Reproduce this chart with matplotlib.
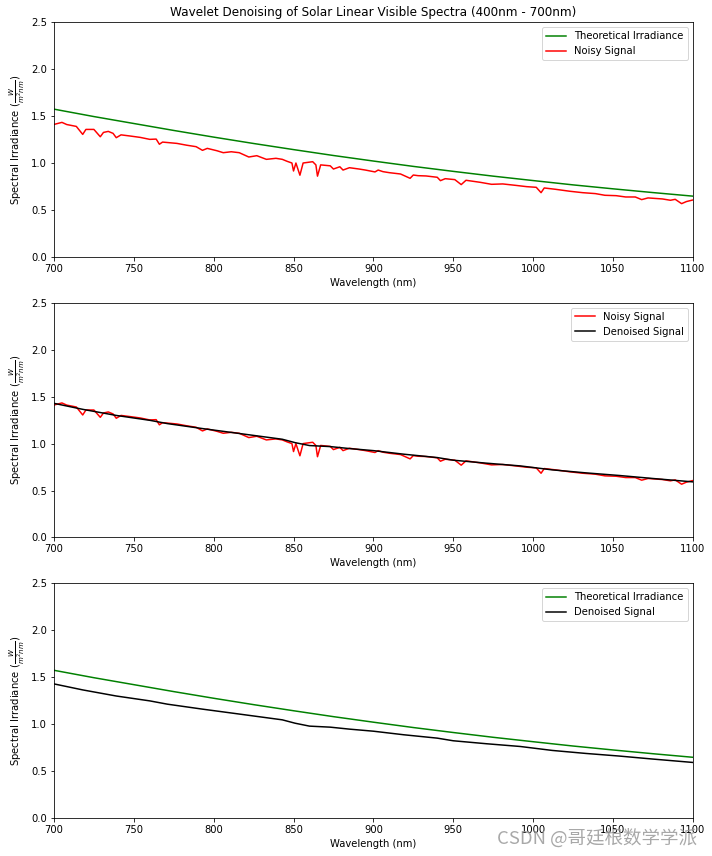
import numpy as np
import matplotlib
matplotlib.use('Agg')
import matplotlib.pyplot as plt

# theoretical irradiance (read every 25 nm)
theo_wl = [700, 725, 750, 775, 800, 825, 850, 875, 900, 925, 950, 975, 1000, 1025, 1050, 1075, 1100]
theo_val = [1.574, 1.495, 1.421, 1.347, 1.276, 1.208, 1.143, 1.080, 1.021, 0.964, 0.911, 0.860, 0.813, 0.767, 0.725, 0.685, 0.647]

# noisy measured spectrum
noisy_wl = [700, 705, 708, 714, 718, 720, 725, 729, 731, 734, 737, 739, 742, 748, 754, 760, 764, 766, 768,
            777, 783, 789, 793, 796, 802, 806, 811, 816, 822, 827, 833, 839, 843, 846, 849, 850, 851.5, 854,
            856, 862, 864, 865, 867, 873, 875, 879, 881, 885, 891, 895, 901, 903, 906, 910, 917, 923, 925,
            928, 933, 940, 942, 945, 951, 955, 958, 967, 974, 981, 989, 996, 1002, 1005, 1007, 1014, 1023,
            1031, 1039, 1045, 1052, 1058, 1064, 1068, 1072, 1081, 1086, 1089, 1093, 1096, 1100]
noisy_val = [1.411, 1.433, 1.410, 1.390, 1.305, 1.358, 1.358, 1.280, 1.326, 1.337, 1.316, 1.270, 1.300, 1.287,
             1.273, 1.252, 1.255, 1.200, 1.223, 1.209, 1.190, 1.174, 1.135, 1.156, 1.131, 1.110, 1.120, 1.110,
             1.064, 1.078, 1.039, 1.050, 1.039, 1.018, 1.000, 0.915, 1.000, 0.870, 1.000, 1.014, 0.980, 0.860,
             0.980, 0.970, 0.936, 0.960, 0.925, 0.950, 0.936, 0.925, 0.905, 0.925, 0.908, 0.897, 0.883, 0.837,
             0.872, 0.865, 0.862, 0.848, 0.812, 0.833, 0.823, 0.770, 0.816, 0.794, 0.773, 0.777, 0.762, 0.748,
             0.741, 0.684, 0.734, 0.720, 0.699, 0.684, 0.674, 0.656, 0.652, 0.638, 0.638, 0.610, 0.628, 0.617,
             0.603, 0.613, 0.567, 0.589, 0.606]

# wavelet denoised spectrum
den_wl = [700, 718, 739, 760, 771, 793, 815, 843, 851, 860, 873, 885, 900, 919, 940, 950, 971, 992, 1012,
          1033, 1054, 1075, 1100]
den_val = [1.429, 1.365, 1.300, 1.248, 1.213, 1.160, 1.110, 1.046, 1.010, 0.979, 0.968, 0.947, 0.925, 0.887,
           0.851, 0.823, 0.791, 0.762, 0.720, 0.688, 0.660, 0.628, 0.592]

ylab = r'Spectral Irradiance $(\frac{W}{m^2nm})$'

fig, axes = plt.subplots(3, 1, figsize=(712/72, 856/72), dpi=72)
fig.subplots_adjust(left=0.0758, right=0.973, top=0.974, bottom=0.0444, hspace=0.196)

ax = axes[0]
ax.plot(theo_wl, theo_val, color='green', label='Theoretical Irradiance')
ax.plot(noisy_wl, noisy_val, color='red', label='Noisy Signal')
ax.set_title('Wavelet Denoising of Solar Linear Visible Spectra (400nm - 700nm)')

ax = axes[1]
ax.plot(noisy_wl, noisy_val, color='red', label='Noisy Signal')
ax.plot(den_wl, den_val, color='black', label='Denoised Signal')

ax = axes[2]
ax.plot(theo_wl, theo_val, color='green', label='Theoretical Irradiance')
ax.plot(den_wl, den_val, color='black', label='Denoised Signal')

for ax in axes:
    ax.set_xlim(700, 1100)
    ax.set_ylim(0, 2.5)
    ax.set_xlabel('Wavelength (nm)')
    ax.set_ylabel(ylab)
    ax.legend(loc='upper right')

# watermark
fig.text(0.979, 0.010, 'CSDN @哥廷根数学学派', ha='right', va='bottom', fontsize=18.5,
         color='#999999', alpha=0.85, family=['Noto Sans CJK SC', 'DejaVu Sans'])

plt.savefig('out.png', dpi=72)
